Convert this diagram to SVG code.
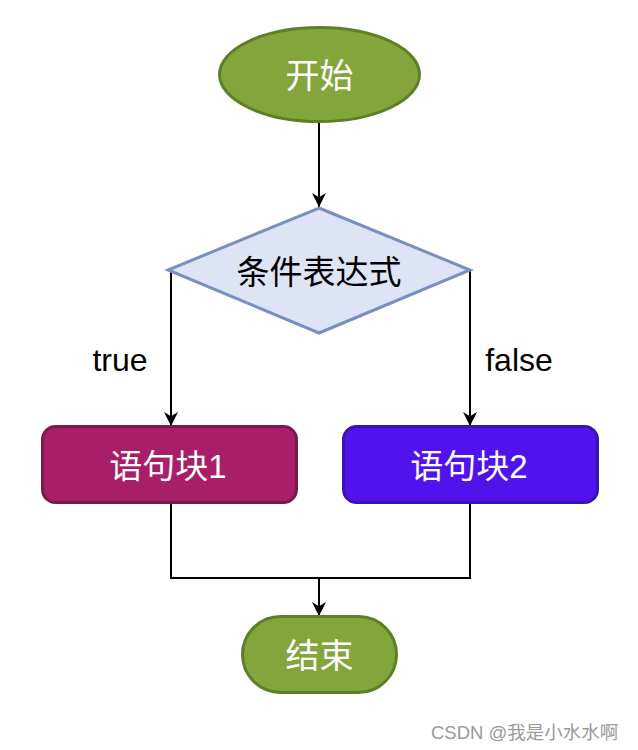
<svg xmlns="http://www.w3.org/2000/svg" width="638" height="750" viewBox="0 0 638 750">
<style>
.t{font-family:"Liberation Sans","Noto Sans CJK SC",sans-serif;text-anchor:middle;dominant-baseline:central}
.w{fill:#ffffff}
.c{fill:none;stroke:#000;stroke-width:2}
.g{fill:#82A63C;stroke:#5E7F27;stroke-width:3}
</style>
<defs>
<marker id="ah" viewBox="0 0 10 10" refX="10" refY="5" markerWidth="16" markerHeight="14" markerUnits="userSpaceOnUse" orient="auto">
<path d="M0,0 L10,5 L0,10 L3,5 z" fill="#000"/>
</marker>
</defs>
<rect width="638" height="750" fill="#fff"/>
<g id="connectors">
<path class="c" d="M319,122 V207" marker-end="url(#ah)"/>
<path class="c" d="M171,270 V426" marker-end="url(#ah)"/>
<path class="c" d="M470,270 V426" marker-end="url(#ah)"/>
<path class="c" d="M171,503 V578 H470 V503"/>
<path class="c" d="M319,578 V616" marker-end="url(#ah)"/>
<text class="t" x="120" y="360" font-size="32" fill="#000">true</text>
<text class="t" x="519" y="360" font-size="32" fill="#000">false</text>
</g>
<g id="start">
<ellipse class="g" cx="319.5" cy="74.5" rx="100" ry="47"/>
<text class="t w" x="319.5" y="76" font-size="34">开始</text>
</g>
<g id="cond">
<polygon points="319,208 470,270 319,333 168,270" fill="#DCE4F6" stroke="#7A8FBF" stroke-width="3"/>
<text class="t" x="319" y="272" font-size="33" fill="#000">条件表达式</text>
</g>
<g id="block1">
<rect x="42.5" y="426.5" width="254" height="76" rx="13" fill="#A81E69" stroke="#7B1A4C" stroke-width="3"/>
<text class="t w" x="168" y="466" font-size="33">语句块1</text>
</g>
<g id="block2">
<rect x="343.5" y="426.5" width="254" height="76" rx="13" fill="#5013EE" stroke="#3A14B0" stroke-width="3"/>
<text class="t w" x="469" y="466" font-size="33">语句块2</text>
</g>
<g id="end">
<rect class="g" x="242.5" y="616.5" width="154" height="76" rx="38"/>
<text class="t w" x="319.5" y="656" font-size="34">结束</text>
</g>
<text x="431" y="739" font-family="Liberation Sans,Noto Sans CJK SC,sans-serif" font-size="18.5" fill="#9a9a9a">CSDN @我是小水水啊</text>
</svg>
